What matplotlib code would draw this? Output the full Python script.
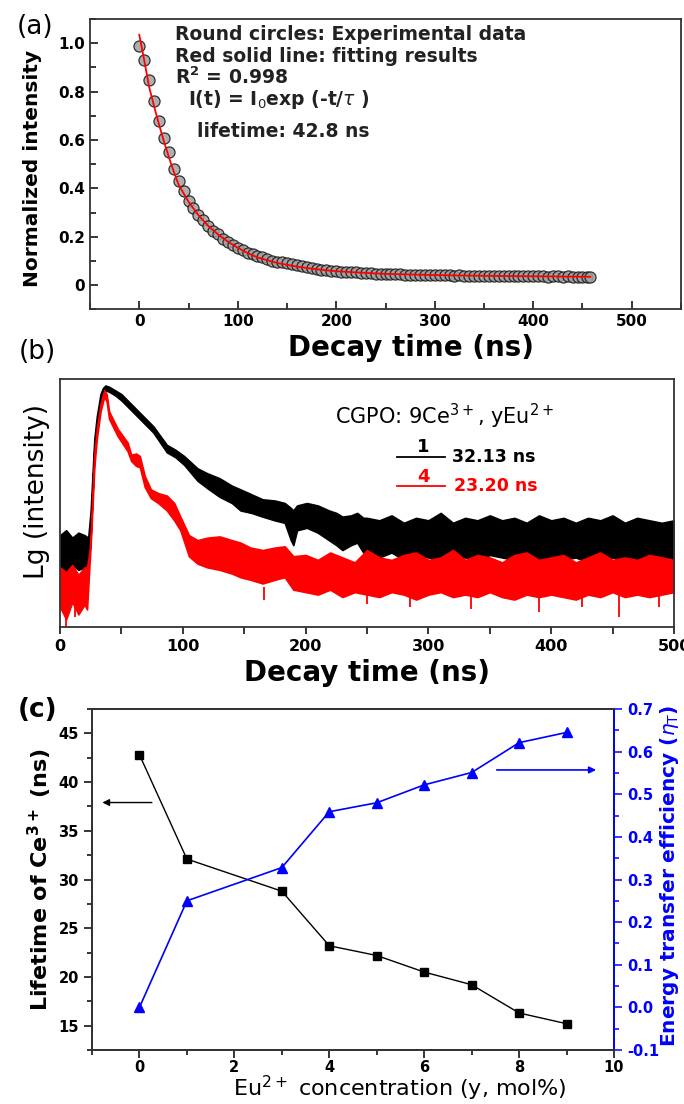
import matplotlib.pyplot as plt
from matplotlib.ticker import MultipleLocator, FuncFormatter

# ---- panel (a): decay curve ----
exp_t = [0, 5, 10, 15, 20, 25, 30, 35, 40, 45, 50, 55, 60, 65, 70, 75, 80, 85, 90, 95,
         100, 105, 110, 115, 120, 125, 130, 135, 140, 145, 150, 155, 160, 165, 170, 175,
         180, 185, 190, 195, 200, 205, 210, 215, 220, 225, 230, 235, 240, 245, 250, 255,
         260, 265, 270, 275, 280, 285, 290, 295, 300, 305, 310, 315, 320, 325, 330, 335,
         340, 345, 350, 355, 360, 365, 370, 375, 380, 385, 390, 395, 400, 405, 410, 415,
         420, 425, 430, 435, 440, 445, 450, 455, 458]
exp_i = [0.99, 0.93, 0.85, 0.76, 0.68, 0.61, 0.55, 0.48, 0.43, 0.39, 0.35, 0.32, 0.29, 0.27,
         0.245, 0.225, 0.21, 0.19, 0.18, 0.165, 0.155, 0.145, 0.135, 0.128, 0.12, 0.115,
         0.11, 0.102, 0.097, 0.095, 0.09, 0.086, 0.082, 0.08, 0.075, 0.071, 0.068, 0.065,
         0.063, 0.06, 0.058, 0.056, 0.055, 0.056, 0.055, 0.052, 0.05, 0.05, 0.048, 0.047,
         0.047, 0.046, 0.045, 0.046, 0.044, 0.044, 0.043, 0.044, 0.042, 0.043, 0.042, 0.041,
         0.042, 0.041, 0.040, 0.041, 0.040, 0.040, 0.039, 0.040, 0.039, 0.040, 0.038, 0.039,
         0.038, 0.039, 0.038, 0.038, 0.037, 0.038, 0.037, 0.038, 0.037, 0.036, 0.037, 0.037,
         0.036, 0.037, 0.036, 0.036, 0.036, 0.035, 0.035]
fit_t = [0, 5, 10, 15, 20, 25, 30, 35, 40, 50, 60, 70, 80, 90, 100, 110, 120, 140, 160,
         180, 200, 225, 250, 300, 350, 400, 458]
fit_i = [1.035, 0.93, 0.82, 0.74, 0.665, 0.595, 0.53, 0.47, 0.415, 0.345, 0.29, 0.245,
         0.21, 0.18, 0.155, 0.133, 0.115, 0.092, 0.077, 0.066, 0.058, 0.052, 0.047, 0.042,
         0.039, 0.037, 0.035]

# ---- panel (b): noisy decay traces, upper/lower edges of the band ----
bk_t = [0, 5, 10, 15, 20, 23, 25, 28, 30, 33, 35, 37, 40, 45, 50, 58, 65, 76, 87, 94,
        101, 112, 120, 130, 140, 147, 156, 165, 175, 183, 188, 190, 193, 201, 210, 219,
        225, 230, 237, 242, 247, 250, 260, 270, 280, 290, 300, 310, 320, 330, 340, 350,
        360, 370, 380, 390, 400, 410, 420, 430, 440, 450, 460, 470, 480, 490, 500]
bk_hi = [0.37, 0.39, 0.36, 0.38, 0.37, 0.36, 0.47, 0.76, 0.85, 0.94, 0.965, 0.975, 0.97,
         0.955, 0.94, 0.90, 0.865, 0.81, 0.735, 0.715, 0.69, 0.64, 0.62, 0.60, 0.57, 0.555,
         0.535, 0.515, 0.51, 0.50, 0.48, 0.47, 0.49, 0.50, 0.49, 0.47, 0.46, 0.445, 0.45,
         0.46, 0.44, 0.44, 0.43, 0.45, 0.42, 0.44, 0.43, 0.46, 0.42, 0.44, 0.43, 0.45, 0.43,
         0.44, 0.42, 0.45, 0.43, 0.44, 0.42, 0.44, 0.43, 0.45, 0.42, 0.44, 0.43, 0.42, 0.43]
bk_lo = [0.24, 0.22, 0.25, 0.23, 0.24, 0.24, 0.40, 0.72, 0.82, 0.91, 0.94, 0.955, 0.95,
         0.935, 0.915, 0.875, 0.84, 0.785, 0.705, 0.685, 0.655, 0.59, 0.56, 0.525, 0.50,
         0.47, 0.46, 0.445, 0.43, 0.42, 0.35, 0.33, 0.39, 0.40, 0.38, 0.35, 0.33, 0.31,
         0.33, 0.34, 0.30, 0.29, 0.28, 0.30, 0.27, 0.29, 0.28, 0.27, 0.29, 0.28, 0.27, 0.29,
         0.28, 0.27, 0.28, 0.26, 0.28, 0.27, 0.28, 0.26, 0.27, 0.28, 0.26, 0.27, 0.26, 0.27,
         0.26]
rd_t = [0, 5, 10, 15, 20, 22, 24, 25, 28, 30, 33, 36, 38, 40, 47, 55, 58, 62, 65, 69, 74,
        80, 87, 93, 98, 105, 112, 120, 130, 140, 147, 155, 165, 175, 183, 190, 200, 210,
        220, 230, 240, 250, 260, 270, 280, 290, 300, 310, 320, 330, 340, 350, 360, 370,
        380, 390, 400, 410, 420, 430, 440, 450, 460, 470, 480, 490, 500]
rd_hi = [0.24, 0.22, 0.25, 0.21, 0.24, 0.24, 0.30, 0.37, 0.70, 0.80, 0.90, 0.955, 0.94,
         0.87, 0.80, 0.745, 0.695, 0.70, 0.69, 0.61, 0.555, 0.54, 0.53, 0.50, 0.445, 0.37,
         0.35, 0.36, 0.365, 0.35, 0.34, 0.32, 0.31, 0.32, 0.325, 0.285, 0.29, 0.27, 0.30,
         0.28, 0.26, 0.31, 0.28, 0.27, 0.29, 0.30, 0.27, 0.28, 0.31, 0.27, 0.29, 0.28, 0.26,
         0.29, 0.30, 0.27, 0.28, 0.29, 0.26, 0.28, 0.30, 0.27, 0.28, 0.27, 0.29, 0.28, 0.27]
rd_lo = [0.08, 0.03, 0.10, 0.05, 0.09, 0.07, 0.25, 0.33, 0.65, 0.76, 0.87, 0.93, 0.91,
         0.84, 0.77, 0.71, 0.67, 0.65, 0.645, 0.565, 0.52, 0.50, 0.47, 0.43, 0.39, 0.285,
         0.255, 0.24, 0.23, 0.215, 0.20, 0.19, 0.175, 0.19, 0.20, 0.15, 0.14, 0.13, 0.15,
         0.12, 0.14, 0.13, 0.12, 0.14, 0.13, 0.11, 0.13, 0.14, 0.12, 0.13, 0.12, 0.14, 0.12,
         0.11, 0.13, 0.12, 0.13, 0.12, 0.11, 0.13, 0.12, 0.14, 0.12, 0.13, 0.12, 0.13, 0.14]
rd_spike_t = [5, 12, 166, 250, 285, 335, 390, 425, 455, 488]
rd_spike_y = [0.0, 0.04, 0.11, 0.09, 0.08, 0.07, 0.06, 0.08, 0.04, 0.08]

# ---- panel (c): lifetime and energy transfer efficiency ----
conc = [0, 1, 3, 4, 5, 6, 7, 8, 9]
lifetime = [42.8, 32.1, 28.8, 23.2, 22.2, 20.5, 19.2, 16.3, 15.2]
eff = [0.0, 0.25, 0.328, 0.459, 0.48, 0.522, 0.551, 0.621, 0.645]

BLUE = '#0000ff'
FRAME = '#333333'

fig = plt.figure(figsize=(6.84, 11.04), dpi=100)


def style_frame(ax, color=FRAME):
    for s in ax.spines.values():
        s.set_linewidth(1.3)
        s.set_color(color)


def center_label(lab):
    lab.set_verticalalignment('center')
    lab.set_horizontalalignment('center')


# (a)
ax1 = fig.add_axes([0.1316, 0.7197, 0.8640, 0.2631])
ax1.plot(exp_t, exp_i, 'o', ms=8, mfc='#a0a0a0', mec='#151515', mew=0.9, alpha=0.85)
ax1.plot(fit_t, fit_i, color='red', lw=1.3)
ax1.set_xlim(-50, 550)
ax1.set_ylim(-0.1, 1.1)
ax1.xaxis.set_major_locator(MultipleLocator(100))
ax1.xaxis.set_minor_locator(MultipleLocator(50))
ax1.yaxis.set_major_locator(MultipleLocator(0.2))
ax1.yaxis.set_minor_locator(MultipleLocator(0.1))
ax1.yaxis.set_major_formatter(FuncFormatter(lambda v, p: '0' if abs(v) < 1e-9 else f'{v:.1f}'))
ax1.tick_params(which='both', direction='in', width=1.1, labelsize=11)
ax1.tick_params(which='major', length=6)
ax1.tick_params(which='minor', length=4)
for lab in ax1.get_xticklabels() + ax1.get_yticklabels():
    lab.set_fontweight('bold')
style_frame(ax1)
ax1.set_ylabel('Normalized intensity', fontsize=14.5, fontweight='bold')
center_label(ax1.yaxis.label)
ax1.yaxis.set_label_coords(-0.098, 0.487)
ax1.set_xlabel('Decay time (ns)', fontsize=20, fontweight='bold')
center_label(ax1.xaxis.label)
ax1.xaxis.set_label_coords(0.543, -0.133)
kw = dict(fontsize=13.5, fontweight='bold', va='center', color='#222222')
ax1.text(36.5, 1.034, 'Round circles: Experimental data', **kw)
ax1.text(36.5, 0.944, 'Red solid line: fitting results', **kw)
ax1.text(36.5, 0.859, r'R$^\mathbf{2}$ = 0.998', **kw)
ax1.text(49, 0.768, r'I(t) = I$_0$exp (-t/$\tau$ )', **kw)
ax1.text(59, 0.637, 'lifetime: 42.8 ns', **kw)

# (b)
ax2 = fig.add_axes([0.0877, 0.4323, 0.8977, 0.2241])
ax2.fill_between(bk_t, bk_lo, bk_hi, color='black', lw=1.2, ec='black')
ax2.fill_between(rd_t, rd_lo, rd_hi, color='#ff0000', lw=1.2, ec='#ff0000')
ax2.vlines(rd_spike_t, rd_spike_y, [0.16] * len(rd_spike_t), color='#ff0000', lw=1.3)
ax2.set_xlim(0, 500)
ax2.set_ylim(0, 1)
ax2.set_yticks([])
ax2.xaxis.set_major_locator(MultipleLocator(100))
ax2.xaxis.set_minor_locator(MultipleLocator(50))
ax2.tick_params(which='both', direction='out', width=1.1, labelsize=11.5)
ax2.tick_params(which='major', length=5)
ax2.tick_params(which='minor', length=5)
for lab in ax2.get_xticklabels():
    lab.set_fontweight('bold')
style_frame(ax2)
ax2.set_ylabel('Lg (intensity)', fontsize=19)
center_label(ax2.yaxis.label)
ax2.yaxis.set_label_coords(-0.038, 0.548)
ax2.set_xlabel('Decay time (ns)', fontsize=20, fontweight='bold')
center_label(ax2.xaxis.label)
ax2.xaxis.set_label_coords(0.5008, -0.187)
ax2.text(224, 0.849, r'CGPO: 9Ce$^{3+}$, yEu$^{2+}$', fontsize=15, va='center')
ax2.text(295.6, 0.728, '1', fontsize=13, fontweight='bold', ha='center', va='center')
ax2.plot([274.4, 313.5], [0.685, 0.685], color='black', lw=1.3)
ax2.text(319, 0.685, '32.13 ns', fontsize=12.5, fontweight='bold', va='center')
ax2.text(295.6, 0.606, '4', fontsize=13, fontweight='bold', ha='center', va='center',
         color='#ff0000')
ax2.plot([274.4, 313.5], [0.569, 0.569], color='#ff0000', lw=1.3)
ax2.text(321, 0.569, '23.20 ns', fontsize=12.5, fontweight='bold', va='center',
         color='#ff0000')

# (c)
ax3 = fig.add_axes([0.1345, 0.0489, 0.7632, 0.3089])
ax3.plot(conc, lifetime, '-s', color='black', lw=1, ms=6)
ax3.set_xlim(-1, 10)
ax3.set_ylim(12.5, 47.5)
ax3.xaxis.set_major_locator(MultipleLocator(2))
ax3.xaxis.set_minor_locator(MultipleLocator(1))
ax3.yaxis.set_major_locator(MultipleLocator(5))
ax3.yaxis.set_minor_locator(MultipleLocator(2.5))
ax3.tick_params(which='both', direction='out', width=1.1, labelsize=10.5)
ax3.tick_params(which='major', length=6)
ax3.tick_params(which='minor', length=3.5)
ax3.tick_params(axis='x', pad=1)
for lab in ax3.get_xticklabels() + ax3.get_yticklabels():
    lab.set_fontweight('bold')
style_frame(ax3)
ax3.set_ylabel(r'Lifetime of Ce$^{\mathbf{3+}}$ (ns)', fontsize=16, fontweight='bold')
center_label(ax3.yaxis.label)
ax3.yaxis.set_label_coords(-0.1006, 0.501)
ax3.set_xlabel(r'Eu$^{2+}$ concentration (y, mol%)', fontsize=16)
ax3.xaxis.label.set_verticalalignment('baseline')
ax3.xaxis.label.set_horizontalalignment('center')
ax3.xaxis.set_label_coords(0.59, -0.135)
ax3.annotate('', xy=(-0.84, 37.9), xytext=(0.32, 37.9),
             arrowprops=dict(arrowstyle='-|>', color='black', lw=1, mutation_scale=10))

ax4 = ax3.twinx()
ax4.plot(conc, eff, '-^', color=BLUE, lw=1.2, ms=7)
ax4.set_ylim(-0.1, 0.7)
ax4.yaxis.set_major_locator(MultipleLocator(0.1))
ax4.yaxis.set_minor_locator(MultipleLocator(0.05))
ax4.yaxis.set_major_formatter(FuncFormatter(lambda v, p: f'{v:.1f}'))
ax4.tick_params(which='both', direction='out', width=1.1, labelsize=10.5,
                colors=BLUE)
ax4.tick_params(which='major', length=6)
ax4.tick_params(which='minor', length=3.5)
for lab in ax4.get_yticklabels():
    lab.set_fontweight('bold')
for s in ax4.spines.values():
    s.set_linewidth(1.3)
ax4.spines['right'].set_color(BLUE)
ax4.spines['top'].set_color(FRAME)
ax4.spines['left'].set_color(FRAME)
ax4.spines['bottom'].set_color(FRAME)
ax4.set_ylabel(r'Energy transfer efficiency ($\eta_\mathrm{T}$)', fontsize=14.5,
               fontweight='bold', color=BLUE)
center_label(ax4.yaxis.label)
ax4.yaxis.set_label_coords(1.107, 0.51)
ax4.annotate('', xy=(9.68, 0.557), xytext=(7.47, 0.557),
             arrowprops=dict(arrowstyle='-|>', color=BLUE, lw=1.2, mutation_scale=10))

# panel letters
fig.text(35 / 684, 1 - 27.5 / 1104, '(a)', fontsize=19, ha='center', va='center')
fig.text(37 / 684, 1 - 352 / 1104, '(b)', fontsize=19, ha='center', va='center')
fig.text(37.5 / 684, 1 - 710 / 1104, '(c)', fontsize=19, fontweight='bold',
         ha='center', va='center')

fig.savefig('out.png', dpi=100)
